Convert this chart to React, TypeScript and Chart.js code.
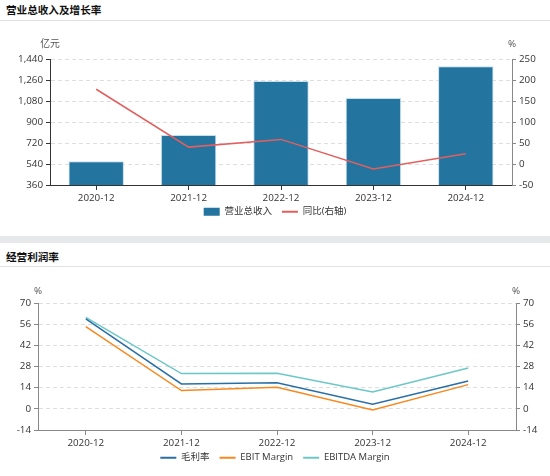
import React, { useEffect, useRef } from "react";
import { Chart, registerables } from "chart.js";

Chart.register(...registerables);

// ---------- data ----------
const categories = ["2020-12", "2021-12", "2022-12", "2023-12", "2024-12"];
const revenue = [563, 789, 1251, 1106, 1377]; // 亿元
const revenueGrowth = [178, 40.2, 58.6, -11.6, 24.5]; // %
const grossMargin = [59.5, 16.5, 17.2, 3.1, 18.4];
const ebitMargin = [54.3, 12.1, 14.3, -0.7, 16.0];
const ebitdaMargin = [60.5, 23.3, 23.6, 11.2, 27.0];

const revenueAxis = { min: 360, max: 1440, step: 180 };
const growthAxis = { min: -50, max: 250, step: 50 };
const marginAxis = { min: -14, max: 70, step: 14 };

const FONT = '"Open Sans", "Noto Sans CJK SC", sans-serif';
const TICK_SIZE = 9.8;

const axisNamePlugin = {
  id: "axisNames",
  afterLayout(chart: any, _args: any, opts: any) {
    const l = chart.legend;
    if (l && opts.legendDy) {
      l.top += opts.legendDy;
      l.bottom += opts.legendDy;
    }
  },
  afterDraw(chart: any, _args: any, opts: any) {
    const ctx = chart.ctx;
    ctx.save();
    ctx.font = `${opts.size}px ${FONT}`;
    ctx.fillStyle = opts.color;
    ctx.textAlign = "center";
    ctx.textBaseline = "middle";
    for (const n of opts.names || []) {
      const s = chart.scales[n.axis];
      const x = s.position === "left" ? s.right : s.left;
      ctx.fillText(n.text, x, chart.chartArea.top + opts.dy);
    }
    ctx.restore();
  },
};

function legendLabels(chart: any) {
  const items = Chart.defaults.plugins.legend.labels.generateLabels(chart);
  items.forEach((it: any) => {
    const ds: any = chart.data.datasets[it.datasetIndex];
    if (ds.type === "bar") {
      it.pointStyle = "rect";
      it.fillStyle = ds.backgroundColor;
      it.strokeStyle = ds.backgroundColor;
      it.lineWidth = 0;
    } else {
      it.pointStyle = "line";
      it.strokeStyle = ds.borderColor;
      it.lineWidth = 2;
    }
  });
  return items.sort((a: any, b: any) => a.datasetIndex - b.datasetIndex);
}

const legendOptions = {
  position: "bottom" as const,
  labels: {
    usePointStyle: true,
    pointStyleWidth: 16,
    boxHeight: 8,
    padding: 10,
    color: "#333",
    font: { size: 9.5, family: FONT },
    generateLabels: legendLabels,
  },
};

function yScale(
  range: { min: number; max: number; step: number },
  position: "left" | "right",
  width: number,
  axisColor: string,
  grid: boolean,
  fmt: (v: number) => string
) {
  return {
    type: "linear" as const,
    position,
    min: range.min,
    max: range.max,
    afterFit(s: any) {
      s.width = width;
    },
    ticks: {
      stepSize: range.step,
      color: "#333",
      font: { size: TICK_SIZE, family: FONT },
      padding: 3,
      callback: (v: any) => fmt(Number(v)),
    },
    grid: {
      drawOnChartArea: grid,
      color: "#dedede",
      lineWidth: 1,
      tickLength: 4,
      tickColor: axisColor,
      tickBorderDash: [],
    },
    border: { color: axisColor, width: 1, dash: [4, 3] },
  };
}

function xScale(height: number, axisColor: string) {
  return {
    type: "category" as const,
    offset: true,
    afterFit(s: any) {
      s.height = height;
    },
    ticks: {
      color: "#333",
      font: { size: TICK_SIZE, family: FONT },
      padding: 2,
      maxRotation: 0,
    },
    grid: {
      offset: false,
      drawOnChartArea: false,
      drawTicks: true,
      tickLength: 5,
      tickColor: axisColor,
    },
    border: { color: axisColor, width: 1 },
  };
}

const fmtThousands = (v: number) => v.toLocaleString("en-US");
const fmtPlain = (v: number) => String(v);

function ChartCanvas({ width, height, make }: { width: number; height: number; make: () => any }) {
  const ref = useRef<HTMLCanvasElement | null>(null);
  useEffect(() => {
    if (!ref.current) return;
    const chart = new Chart(ref.current, make());
    return () => chart.destroy();
  }, []);
  return <canvas ref={ref} width={width} height={height} style={{ display: "block", width, height }} />;
}

function makeRevenueChart() {
  return {
    type: "bar",
    data: {
      labels: categories,
      datasets: [
        {
          type: "bar",
          label: "营业总收入",
          data: revenue,
          yAxisID: "y",
          backgroundColor: "#23749f",
          borderColor: "rgba(190,220,236,0.9)",
          borderWidth: 1,
          barPercentage: 0.6,
          categoryPercentage: 1,
          order: 2,
        },
        {
          type: "line",
          label: "同比(右轴)",
          data: revenueGrowth,
          yAxisID: "y1",
          borderColor: "#e35f5f",
          backgroundColor: "#e35f5f",
          borderWidth: 1.5,
          pointRadius: 0,
          pointHoverRadius: 0,
          tension: 0,
          order: 1,
        },
      ],
    },
    options: {
      responsive: false,
      animation: false,
      layout: { padding: { top: 38, left: 0, right: 0, bottom: 0.5 } },
      scales: {
        x: xScale(21, "#333"),
        y: yScale(revenueAxis, "left", 50, "#333", true, fmtThousands),
        y1: yScale(growthAxis, "right", 38, "#888", false, fmtPlain),
      },
      plugins: {
        legend: legendOptions,
        tooltip: { enabled: false },
        axisNames: {
          size: 9.8,
          color: "#555",
          dy: -15,
          legendDy: -9,
          names: [
            { axis: "y", text: "亿元" },
            { axis: "y1", text: "%" },
          ],
        },
      },
    },
    plugins: [axisNamePlugin],
  };
}

function makeMarginChart() {
  const line = (label: string, data: number[], color: string) => ({
    type: "line",
    label,
    data,
    yAxisID: "y",
    borderColor: color,
    backgroundColor: color,
    borderWidth: 1.5,
    pointRadius: 0,
    pointHoverRadius: 0,
    tension: 0,
  });
  return {
    type: "line",
    data: {
      labels: categories,
      datasets: [
        line("毛利率", grossMargin, "#2a6ea6"),
        line("EBIT Margin", ebitMargin, "#f7891f"),
        line("EBITDA Margin", ebitdaMargin, "#6cc7c7"),
        { type: "line", label: "_r", data: [], yAxisID: "y1" },
      ],
    },
    options: {
      responsive: false,
      animation: false,
      layout: { padding: { top: 36, left: 0, right: 0, bottom: 0.5 } },
      scales: {
        x: xScale(21, "#888"),
        y: yScale(marginAxis, "left", 38, "#888", true, fmtPlain),
        y1: yScale(marginAxis, "right", 34, "#888", false, fmtPlain),
      },
      plugins: {
        legend: {
          ...legendOptions,
          labels: {
            ...legendOptions.labels,
            filter: (it: any) => it.text !== "_r",
          },
        },
        tooltip: { enabled: false },
        axisNames: {
          size: 9.8,
          color: "#555",
          dy: -12,
          legendDy: -8,
          names: [
            { axis: "y", text: "%" },
            { axis: "y1", text: "%" },
          ],
        },
      },
    },
    plugins: [axisNamePlugin],
  };
}

const titleStyle: React.CSSProperties = {
  position: "absolute",
  left: 6,
  height: 20,
  lineHeight: "20px",
  fontSize: 10.6,
  fontWeight: 700,
  color: "#111",
  fontFamily: '"Noto Sans CJK SC", sans-serif',
  whiteSpace: "nowrap",
};

export default function App() {
  return (
    <div
      style={{
        position: "fixed",
        left: 0,
        top: 0,
        width: 550,
        height: 476,
        background: "#fff",
        overflow: "hidden",
      }}
    >
      <div style={{ ...titleStyle, top: 0 }}>营业总收入及增长率</div>
      <div style={{ position: "absolute", left: 0, top: 20, width: 550, height: 1, background: "#e2e2e2" }} />
      <div style={{ position: "absolute", left: 0, top: 21 }}>
        <ChartCanvas width={550} height={215} make={makeRevenueChart} />
      </div>
      <div style={{ position: "absolute", left: 0, top: 236, width: 550, height: 7, background: "#e7e8ea" }} />
      <div style={{ ...titleStyle, top: 247 }}>经营利润率</div>
      <div style={{ position: "absolute", left: 0, top: 266, width: 550, height: 1, background: "#e2e2e2" }} />
      <div style={{ position: "absolute", left: 0, top: 267 }}>
        <ChartCanvas width={550} height={214} make={makeMarginChart} />
      </div>
    </div>
  );
}
